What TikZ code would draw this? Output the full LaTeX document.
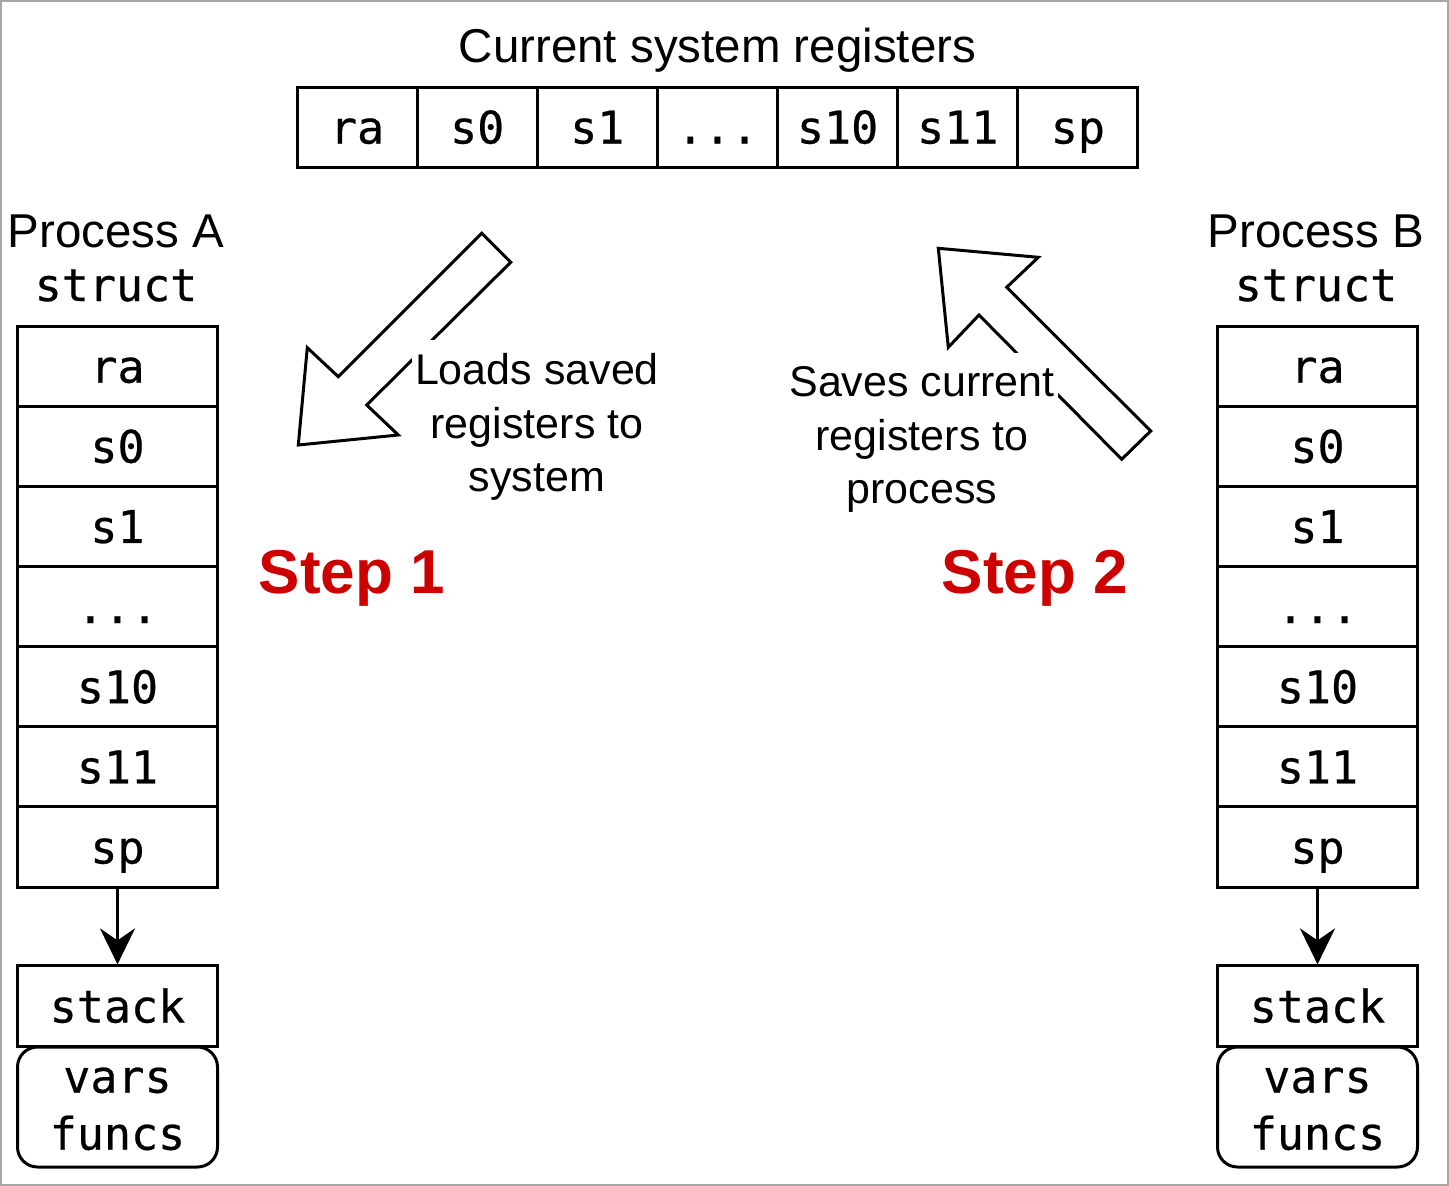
\documentclass[tikz,border=0pt]{standalone}
\usepackage{fontspec}
\setmainfont{Liberation Sans}
\newfontfamily\monof[FakeBold=0.5]{DejaVu Sans Mono}
\usetikzlibrary{arrows.meta}
\definecolor{stepred}{HTML}{CC0000}
\begin{document}
\begin{tikzpicture}[x=1pt,y=-1pt,
  cell/.style={draw, line width=3pt, minimum width=200pt, minimum height=80.2pt, inner sep=0pt,
    font=\monof\fontsize{45}{54}\selectfont, text height=40pt, text depth=7pt},
  topcell/.style={cell, minimum width=120.1pt, minimum height=80pt},
  memcell/.style={draw, line width=3pt, rounded corners=20pt, minimum width=200pt, minimum height=120pt,
    inner sep=0pt, align=center, font=\monof\fontsize{45}{57}\selectfont},
  title/.style={font=\fontsize{47.5}{57}\selectfont, anchor=base, inner sep=0pt},
  structlab/.style={font=\monof\fontsize{45}{54}\selectfont, anchor=base, inner sep=0pt},
  lab/.style={font=\fontsize{43}{53.5}\selectfont, align=center, fill=white, inner xsep=3pt, inner ysep=14pt, anchor=north},
  steplab/.style={font=\bfseries\fontsize{62}{70}\selectfont, text=stepred, anchor=base, inner sep=0pt},
  bigarrow/.style={draw, fill=white, line width=3pt, line join=miter},
  ptr/.style={line width=3pt, -{Stealth[length=36pt,width=35pt,inset=12pt]}}
]
\useasboundingbox (0,0) rectangle (1449,1186);
\draw[gray!70, line width=2pt] (1,1) rectangle (1448,1185);

% title and top register row
\node[title] (curtitle) at (717.5,62) {Current system registers};
\node[topcell] (T1) at (357.05,127) {ra};
\node[topcell] (T2) at (477.19,127) {s0};
\node[topcell] (T3) at (597.33,127) {s1};
\node[topcell] (T4) at (717.47,127) {...};
\node[topcell] (T5) at (837.61,127) {s10};
\node[topcell] (T6) at (957.75,127) {s11};
\node[topcell] (T7) at (1077.89,127) {sp};

% Process A
\node[title] (pA) at (116,247) {Process A};
\node[structlab] (sA) at (116,301) {struct};
\node[cell] (A1) at (117.5,366.1) {ra};
\node[cell] (A2) at (117.5,446.2) {s0};
\node[cell] (A3) at (117.5,526.4) {s1};
\node[cell] (A4) at (117.5,606.5) {...};
\node[cell] (A5) at (117.5,686.7) {s10};
\node[cell] (A6) at (117.5,766.8) {s11};
\node[cell] (A7) at (117.5,847.0) {sp};
\node[cell] (stackA) at (117.5,1006) {stack};
\node[memcell] (memA) at (117.5,1107) {\rule{0pt}{29pt}vars\\funcs};
\draw[ptr] (A7.south) -- (stackA.north);

% Process B
\node[title] (pB) at (1316,247) {Process B};
\node[structlab] (sB) at (1316,301) {struct};
\node[cell] (B1) at (1317.5,366.1) {ra};
\node[cell] (B2) at (1317.5,446.2) {s0};
\node[cell] (B3) at (1317.5,526.4) {s1};
\node[cell] (B4) at (1317.5,606.5) {...};
\node[cell] (B5) at (1317.5,686.7) {s10};
\node[cell] (B6) at (1317.5,766.8) {s11};
\node[cell] (B7) at (1317.5,847.0) {sp};
\node[cell] (stackB) at (1317.5,1006) {stack};
\node[memcell] (memB) at (1317.5,1107) {\rule{0pt}{29pt}vars\\funcs};
\draw[ptr] (B7.south) -- (stackB.north);

% block arrows
\path[bigarrow] (481.7,233.3) -- (510.7,262.3) -- (366.7,405) -- (398.3,435) -- (298.3,445)
  -- (307.3,347.7) -- (338.3,376.7) -- cycle;
\path[bigarrow] (938.3,248.3) -- (1038.3,257.3) -- (1006.7,287.3) -- (1150.7,431) -- (1121.7,459.3)
  -- (979,315) -- (948.3,347.3) -- cycle;

% labels
\node[lab] (load) at (537,339.5) {Loads saved\\registers to\\system};
\node[lab] (save) at (922,352.5) {Saves current\\registers to\\process};

\node[steplab] (step1) at (352,593) {Step 1};
\node[steplab] (step2) at (1035,593) {Step 2};
\end{tikzpicture}
\end{document}
